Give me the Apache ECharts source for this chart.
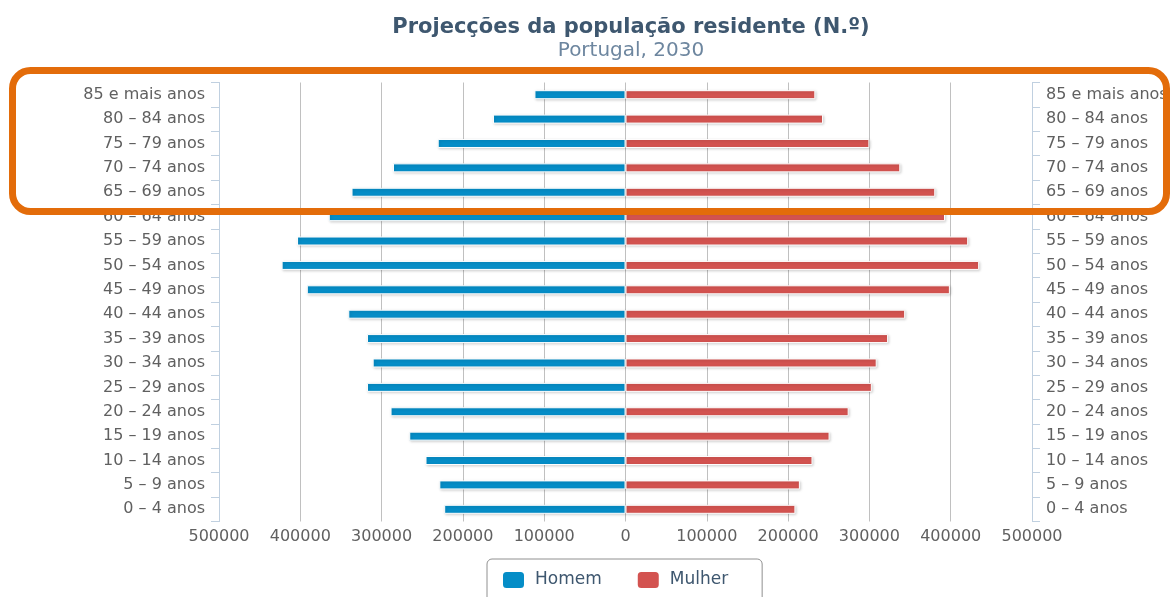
<!DOCTYPE html>
<html>
<head>
<meta charset="utf-8">
<script src="https://cdn.jsdelivr.net/npm/echarts@6/dist/echarts.min.js"></script>
<style>
  html, body { margin: 0; padding: 0; background: #fff; }
  #chart { width: 1173px; height: 597px; }
</style>
</head>
<body>
<div id="chart"></div>
<script>
// faixas etárias, de baixo para cima
const grupos = ['0 – 4 anos', '5 – 9 anos', '10 – 14 anos', '15 – 19 anos', '20 – 24 anos',
  '25 – 29 anos', '30 – 34 anos', '35 – 39 anos', '40 – 44 anos', '45 – 49 anos',
  '50 – 54 anos', '55 – 59 anos', '60 – 64 anos', '65 – 69 anos', '70 – 74 anos',
  '75 – 79 anos', '80 – 84 anos', '85 e mais anos'];
const homem = [223000, 229000, 246000, 266000, 289000, 318000, 311000, 318000, 341000,
  392000, 423000, 404000, 365000, 337000, 286000, 231000, 163000, 112000];
const mulher = [209000, 214500, 230000, 251000, 274500, 303000, 309000, 323000, 344000,
  399000, 435000, 421500, 393000, 381000, 338000, 300000, 243000, 233500];
const ticksX = [-500000, -400000, -300000, -200000, -100000, 0, 100000, 200000, 300000, 400000, 500000];

const font = 'DejaVu Sans';
const barStyle = (cor) => ({
  color: cor,
  borderColor: '#fff',
  borderWidth: 1,
  shadowBlur: 3,
  shadowOffsetX: 1,
  shadowOffsetY: 1,
  shadowColor: 'rgba(0,0,0,0.18)'
});
const yAxisBase = {
  type: 'category',
  data: grupos,
  axisLine: { show: true, onZero: false, lineStyle: { color: '#C0D0E0' } },
  axisTick: { show: true, length: 8, lineStyle: { color: '#C0D0E0' } },
  axisLabel: { color: '#606060', fontSize: 16, fontFamily: font, margin: 14 },
  splitLine: { show: false }
};

const chart = echarts.init(document.getElementById('chart'));
chart.setOption({
  animation: false,
  title: {
    text: 'Projecções da população residente (N.º)',
    subtext: 'Portugal, 2030',
    left: 626,
    textAlign: 'center',
    top: 12,
    itemGap: 3,
    textStyle: { fontFamily: font, fontSize: 21, fontWeight: 'bold', color: '#3E576F' },
    subtextStyle: { fontFamily: font, fontSize: 20, color: '#6D869F' }
  },
  legend: {
    data: ['Homem', 'Mulher'],
    left: 487,
    top: 559,
    padding: [11, 34, 12, 14],
    itemWidth: 23,
    itemHeight: 18,
    itemGap: 34,
    borderColor: '#909090',
    borderWidth: 1,
    borderRadius: 5,
    icon: 'roundRect',
    textStyle: { fontFamily: font, fontSize: 17, color: '#3E576F', padding: [0, 0, 0, 5] }
  },
  grid: { left: 219, right: 141, top: 82.5, bottom: 75.5, containLabel: false },
  xAxis: {
    type: 'value',
    min: ticksX[0],
    max: ticksX[ticksX.length - 1],
    interval: 100000,
    axisLine: { show: false },
    axisTick: { show: false },
    axisLabel: {
      color: '#606060', fontSize: 16, fontFamily: font, margin: 7,
      formatter: v => String(Math.abs(v))
    },
    splitLine: { show: true, lineStyle: { color: '#C0C0C0', width: 1 } }
  },
  yAxis: [
    Object.assign({}, yAxisBase, { position: 'left' }),
    Object.assign({}, yAxisBase, { position: 'right' })
  ],
  series: [
    {
      name: 'Homem',
      type: 'bar',
      yAxisIndex: 0,
      barWidth: 9,
      barGap: '-100%',
      data: homem.map(v => -v),
      itemStyle: barStyle('#058DC7')
    },
    {
      name: 'Mulher',
      type: 'bar',
      yAxisIndex: 0,
      barWidth: 9,
      barGap: '-100%',
      data: mulher,
      itemStyle: barStyle('#D35350')
    }
  ],
  graphic: [
    {
      type: 'rect',
      z: 100,
      shape: { x: 12.5, y: 70.5, width: 1154, height: 141, r: 18 },
      style: { fill: 'none', stroke: '#E36C0A', lineWidth: 7 }
    }
  ]
});
</script>
</body>
</html>
